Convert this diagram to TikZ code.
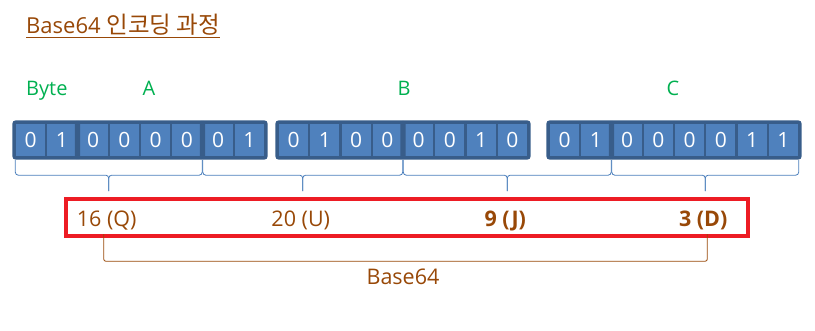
\documentclass[tikz,border=0pt]{standalone}
\usepackage{fontspec}
\setmainfont{Open Sans}
\newfontfamily\kofont{Noto Sans CJK KR}
\usetikzlibrary{positioning,calc}
\definecolor{cellblue}{RGB}{79,129,189}
\definecolor{celledge}{RGB}{56,93,138}
\definecolor{bracecol}{RGB}{74,126,187}
\definecolor{textbrown}{RGB}{152,72,7}
\definecolor{labgreen}{RGB}{0,176,80}
\definecolor{boxred}{RGB}{237,28,36}

\tikzset{
  bitcell/.style={draw=celledge, fill=cellblue, line width=2.4pt, minimum width=31.25pt,
    minimum height=34pt, inner sep=0pt, text=white, font=\fontsize{21}{23}\selectfont},
  bitgroup/.style={draw=celledge, line width=2.8pt, rounded corners=2pt},
  bitbrace/.style={draw=bracecol, line width=0.8pt, rounded corners=3pt},
  bytelabel/.style={text=labgreen, font=\fontsize{20}{22}\selectfont, anchor=base, inner sep=0pt},
  b64val/.style={text=textbrown, font=\fontsize{21.5}{24}\selectfont, anchor=base, inner sep=0pt},
  b64line/.style={draw=textbrown, line width=0.8pt, rounded corners=2pt},
}

\begin{document}
\begin{tikzpicture}[x=1pt, y=-1pt]
  \useasboundingbox (0,0) rectangle (815,331);

  % Title
  \node[anchor=base west, inner sep=0pt, text=textbrown, font=\fontsize{22}{26}\selectfont]
    (title) at (26,34) {Base64 {\kofont\fontsize{23.5}{26}\selectfont 인코딩 과정}};
  \draw[textbrown, line width=1pt] ($(title.base west)+(0,3.5)$) -- ($(title.base east)+(0,3.5)$);

  % Byte labels
  \node[bytelabel, anchor=base west] (bytelab) at (26,96) {Byte};
  \node[bytelabel] (labA) at (149,96) {A};
  \node[bytelabel] (labB) at (404,96) {B};
  \node[bytelabel] (labC) at (673,96) {C};

  % Bits
  \foreach \byte/\xs/\bits in {a/15/{0,1,0,0,0,0,0,1}, b/278/{0,1,0,0,0,0,1,0}, c/549/{0,1,0,0,0,0,1,1}}
    \foreach \b [count=\i] in \bits
      \node[bitcell] (\byte\i) at ({\xs+(\i-0.5)*31.25},140) {\b};
  \foreach \p/\q in {a1/a2, a3/a6, a7/a8, b1/b4, b5/b8, c1/c2, c3/c8}
    \draw[bitgroup] (\p.north west) rectangle (\q.south east);

  % 6-bit braces
  \foreach \p/\q/\n in {a1/a6/1, a7/b4/2, b5/c2/3, c3/c8/4} {
    \coordinate (bl\n) at ($(\p.south west)+(1.5,2)$);
    \coordinate (br\n) at ($(\q.south east)+(-1.5,2)$);
    \coordinate (bt\n) at ($(bl\n)!0.5!(br\n)+(0,31)$);
    \draw[bitbrace] (bl\n) |- ($(bt\n)+(0,-16)$) -- (bt\n);
    \draw[bitbrace] (br\n) |- ($(bt\n)+(0,-16)$) -- (bt\n);
  }

  % Base64 values
  \node[draw=boxred, line width=3.6pt, minimum width=682pt, minimum height=37pt, inner sep=0pt]
    (b64box) at (407,217.5) {};
  \foreach \n/\v in {1/16 (Q), 2/20 (U), 3/{\bfseries 9 (J)}, 4/{\bfseries 3 (D)}}
    \node[b64val] (v\n) at ($(bt\n)+(-2,35)$) {\v};

  \draw[b64line] ($(v1.base)+(-3,8)$) -- ++(0,27) -| ($(v4.base)+(4,8)$);
  \node[b64val] (b64lab) at (403,285) {Base64};
\end{tikzpicture}
\end{document}
